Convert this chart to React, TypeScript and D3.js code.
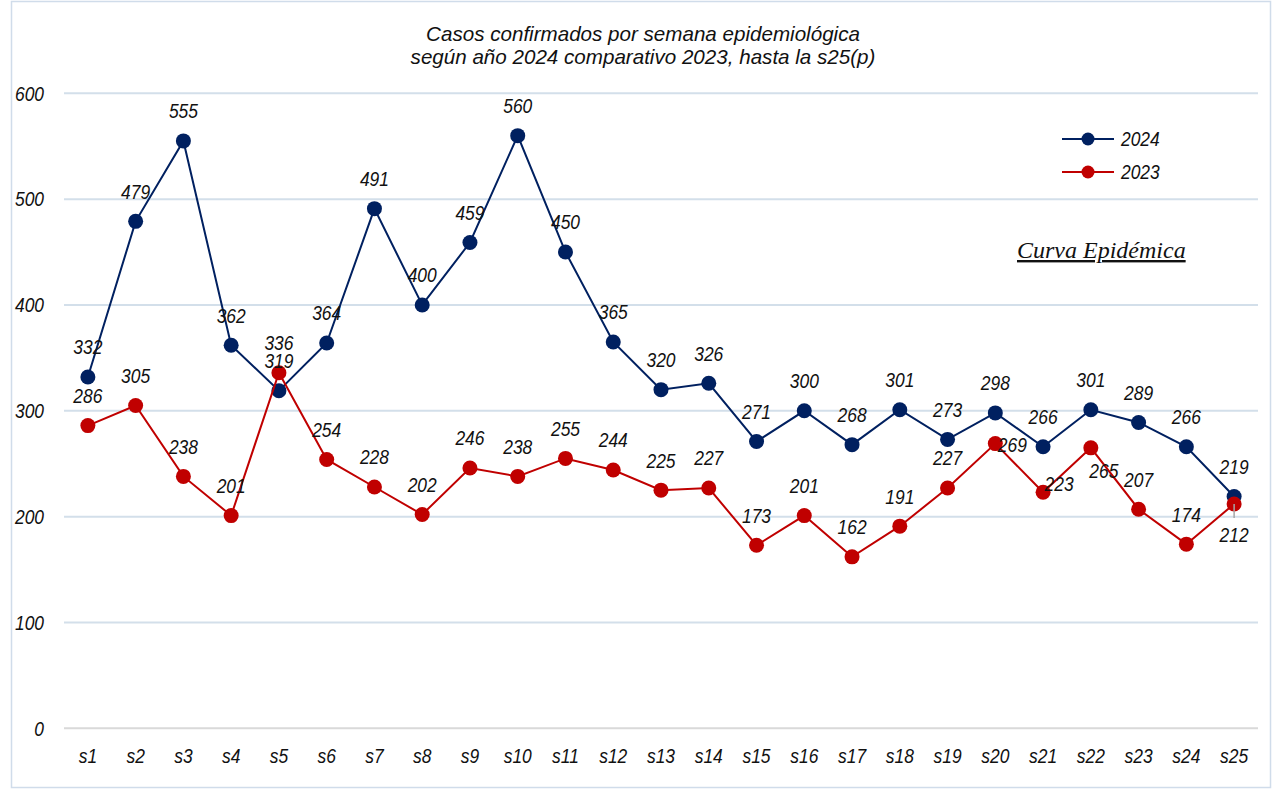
import React, { useEffect, useRef } from 'react';
import * as d3 from 'd3';

const weeks = ['s1', 's2', 's3', 's4', 's5', 's6', 's7', 's8', 's9', 's10', 's11', 's12', 's13', 's14', 's15', 's16', 's17', 's18', 's19', 's20', 's21', 's22', 's23', 's24', 's25'];
const cases2024 = [332, 479, 555, 362, 319, 364, 491, 400, 459, 560, 450, 365, 320, 326, 271, 300, 268, 301, 273, 298, 266, 301, 289, 266, 219];
const cases2023 = [286, 305, 238, 201, 336, 254, 228, 202, 246, 238, 255, 244, 225, 227, 173, 201, 162, 191, 227, 269, 223, 265, 207, 174, 212];
const yTicks = [0, 100, 200, 300, 400, 500, 600];
const titleLines = ['Casos confirmados por semana epidemiológica', 'según año 2024 comparativo 2023, hasta la s25(p)'];

// label nudges for the 2023 points that don't sit above their marker
const labelNudge2023: Record<string, [number, number]> = {
  s20: [17, 1],
  s21: [16, -9],
  s22: [13, 23],
  s25: [0, 31],
};

const W = 1273;
const H = 790;
const FONT = '"Liberation Sans", Arial, sans-serif';
const NARROW = 0.83; // no narrow face installed, squeeze horizontally instead

export default function App() {
  const svgRef = useRef<SVGSVGElement>(null);

  useEffect(() => {
    if (!svgRef.current) return;
    const svg = d3.select(svgRef.current);
    svg.selectAll('*').remove();

    const x = d3.scaleBand<string>().domain(weeks).range([64, 1258]);
    const cx = (w: string) => (x(w) ?? 0) + x.bandwidth() / 2;
    const y = d3.scaleLinear().domain([0, 600]).range([728.3, 93.3]);

    const narrowText = (
      parent: d3.Selection<any, any, any, any>,
      tx: number,
      ty: number,
      txt: string | number,
      anchor = 'middle',
      size = 21
    ) =>
      parent.append('text')
        .attr('transform', `translate(${tx},${ty}) scale(${NARROW},1)`)
        .attr('dy', '0.35em')
        .attr('text-anchor', anchor)
        .attr('font-family', FONT)
        .attr('font-style', 'italic')
        .attr('font-size', size)
        .attr('fill', '#111')
        .text(txt);

    svg.append('rect')
      .attr('x', 11.5).attr('y', 1.5)
      .attr('width', 1259).attr('height', 786)
      .attr('fill', '#fff')
      .attr('stroke', '#d0dcea')
      .attr('stroke-width', 1.5);

    // title
    svg.append('g')
      .selectAll('text')
      .data(titleLines)
      .join('text')
      .attr('x', 643)
      .attr('y', (_, i) => 41 + i * 22.5)
      .attr('text-anchor', 'middle')
      .attr('font-family', FONT)
      .attr('font-style', 'italic')
      .attr('font-size', 20.6)
      .attr('fill', '#111')
      .text(d => d);

    // grid
    svg.append('g')
      .selectAll('line')
      .data(yTicks)
      .join('line')
      .attr('x1', 64).attr('x2', 1258)
      .attr('y1', d => y(d)).attr('y2', d => y(d))
      .attr('stroke', d => (d === 0 ? '#d9d9d9' : '#d3dfea'))
      .attr('stroke-width', 2);

    const yAxisG = svg.append('g');
    yTicks.forEach(t => narrowText(yAxisG, 44, y(t), t, 'end'));

    const xAxisG = svg.append('g');
    weeks.forEach(w => narrowText(xAxisG, cx(w), 756, w));

    const series = [
      { name: '2024', values: cases2024, color: '#002060' },
      { name: '2023', values: cases2023, color: '#c00000' },
    ];

    const line = d3.line<number>()
      .x((_, i) => cx(weeks[i]))
      .y(d => y(d));

    series.forEach(s => {
      const g = svg.append('g');
      g.append('path')
        .attr('d', line(s.values))
        .attr('fill', 'none')
        .attr('stroke', s.color)
        .attr('stroke-width', 2);
      g.selectAll('circle')
        .data(s.values)
        .join('circle')
        .attr('cx', (_, i) => cx(weeks[i]))
        .attr('cy', d => y(d))
        .attr('r', 7.5)
        .attr('fill', s.color);
    });

    // leader line for s25 2023 label
    svg.append('line')
      .attr('x1', cx('s25')).attr('x2', cx('s25'))
      .attr('y1', y(cases2023[24])).attr('y2', y(cases2023[24]) + 14)
      .attr('stroke', '#a6a6a6')
      .attr('stroke-width', 1.5);

    series.forEach(s => {
      const g = svg.append('g');
      s.values.forEach((v, i) => {
        const n = s.name === '2023' ? labelNudge2023[weeks[i]] : undefined;
        narrowText(g, cx(weeks[i]) + (n ? n[0] : 0), y(v) + (n ? n[1] : -30), v);
      });
    });

    // legend
    const legend = svg.append('g');
    series.forEach((s, i) => {
      const ly = 139 + i * 33;
      legend.append('line')
        .attr('x1', 1062).attr('x2', 1114)
        .attr('y1', ly).attr('y2', ly)
        .attr('stroke', s.color)
        .attr('stroke-width', 2);
      legend.append('circle')
        .attr('cx', 1088).attr('cy', ly)
        .attr('r', 6.5)
        .attr('fill', s.color);
      narrowText(legend, 1121, ly, s.name, 'start');
    });

    svg.append('text')
      .attr('x', 1017).attr('y', 258)
      .attr('font-family', '"Liberation Serif", "Times New Roman", serif')
      .attr('font-style', 'italic')
      .attr('font-size', 24)
      .attr('text-decoration', 'underline')
      .attr('fill', '#111')
      .text('Curva Epidémica');
  }, []);

  return (
    <svg
      ref={svgRef}
      width={W}
      height={H}
      style={{ position: 'absolute', left: 0, top: 0, background: '#fff' }}
    />
  );
}
